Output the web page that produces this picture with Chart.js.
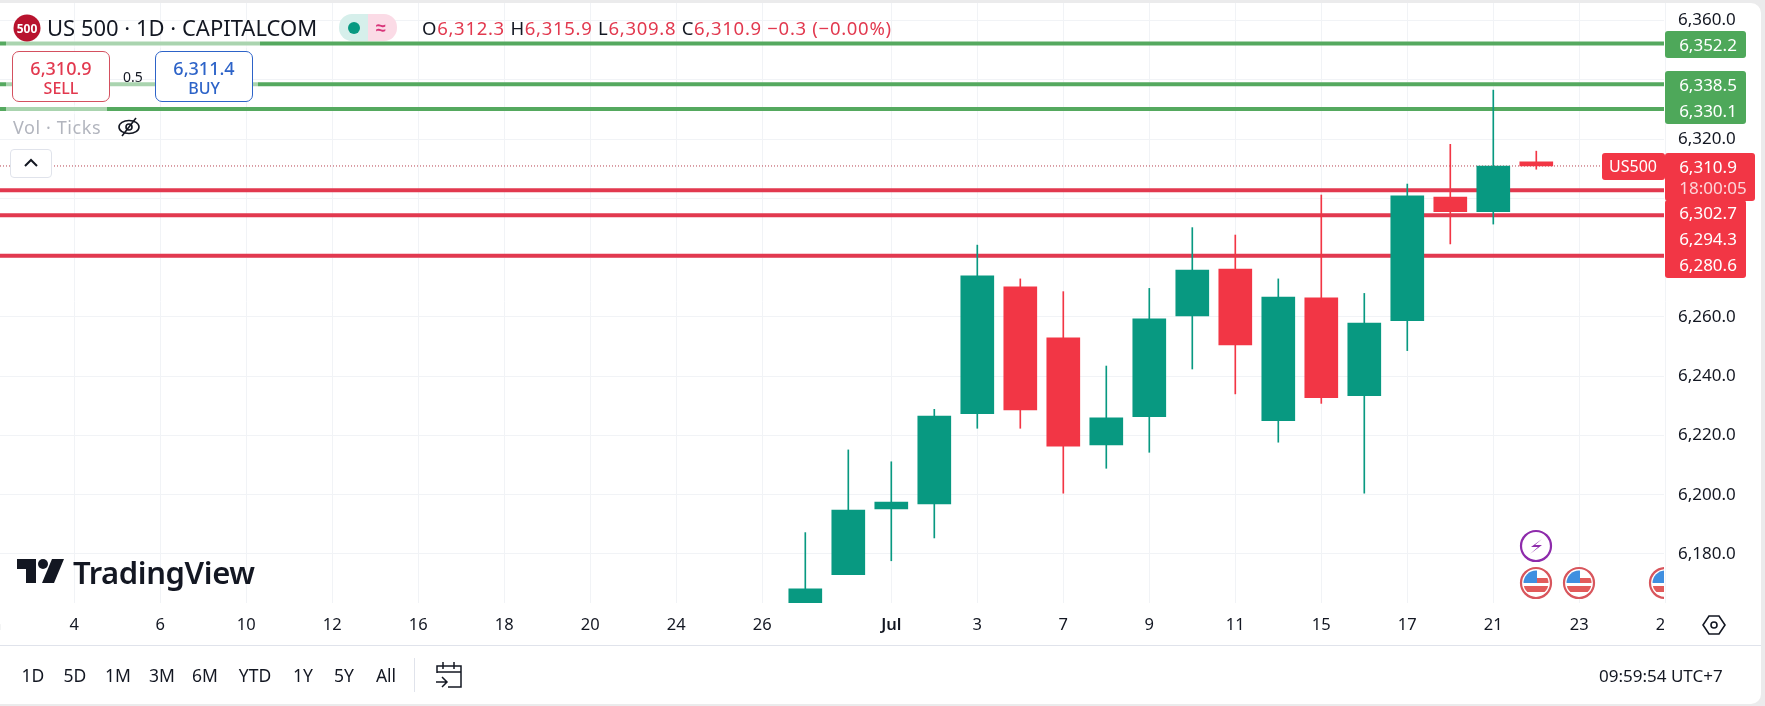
<!DOCTYPE html>
<html>
<head>
<meta charset="utf-8">
<title>US 500</title>
<script src="https://cdn.jsdelivr.net/npm/chart.js@4"></script>
<style>
  html, body { margin: 0; width: 1765px; height: 706px; overflow: hidden; background: #fff; }
  body, div, span { font-family: "Noto Sans", sans-serif; color: #131722; }
  canvas { position: absolute; left: 0; top: 0; }
  .a { position: absolute; white-space: nowrap; }
  .c { transform: translate(-50%, -50%); }
  .v { transform: translateY(-50%); }
  .red { color: #e2394f; }
  .box { position: absolute; background: #fff; border-radius: 7px; box-sizing: border-box; }
  .strip { position: absolute; background: rgba(255, 255, 255, 0.5); }
  .tag { position: absolute; border-radius: 3px; }
  .tagtxt { position: absolute; left: 1708px; transform: translate(-50%, -50%); color: #fff; font-size: 17px; white-space: nowrap; }
  .range { position: absolute; top: 675px; transform: translate(-50%, -50%); font-size: 17.5px; }
</style>
</head>
<body>
<canvas id="chart" width="1765" height="706"></canvas>

<!-- price tags -->
<div class="tag" style="left:1665px;top:31px;width:81px;height:27px;background:#4ea85a"></div>
<div class="tag" style="left:1665px;top:71px;width:81px;height:53px;background:#4ea85a"></div>
<div class="tag" style="left:1602px;top:153px;width:63px;height:27px;background:#f23645"></div>
<div class="tag" style="left:1665px;top:153px;width:90px;height:48px;background:#f23645"></div>
<div class="tag" style="left:1665px;top:200px;width:81px;height:78px;background:#f23645"></div>
<div class="tagtxt" style="top:44px">6,352.2</div>
<div class="tagtxt" style="top:84px">6,338.5</div>
<div class="tagtxt" style="top:110px">6,330.1</div>
<div class="tagtxt" style="top:166px">6,310.9</div>
<div class="tagtxt" style="top:187px;left:1713px;color:#fcd5d9">18:00:05</div>
<div class="tagtxt" style="top:212px">6,302.7</div>
<div class="tagtxt" style="top:238px">6,294.3</div>
<div class="tagtxt" style="top:264px">6,280.6</div>
<div class="tagtxt" style="top:166px;left:1633px;font-size:16px">US500</div>

<!-- legend -->
<div class="strip" style="left:6px;top:40px;width:254px;height:8px"></div>
<div class="strip" style="left:6px;top:80px;width:252px;height:9px"></div>
<div class="strip" style="left:6px;top:105px;width:101px;height:9px"></div>
<svg class="a" style="left:13px;top:14px" width="28" height="28"><circle cx="14" cy="14" r="13.5" fill="#b8132e"/><text x="14" y="18.5" font-size="12" font-weight="700" fill="#fff" text-anchor="middle" font-family="Noto Sans">500</text></svg>
<div class="a v" style="left:47px;top:27px;font-size:22px">US 500 · 1D · CAPITALCOM</div>
<div class="a" style="left:339px;top:14px;width:29px;height:27px;background:#d6efeb;border-radius:13px 0 0 13px"></div>
<div class="a" style="left:368px;top:14px;width:29px;height:27px;background:#fbdbe6;border-radius:0 13px 13px 0"></div>
<div class="a" style="left:348px;top:22px;width:12px;height:12px;background:#089981;border-radius:50%"></div>
<div class="a c" style="left:381px;top:27px;font-size:18px;font-weight:700;color:#d9357a">≈</div>
<div class="a v" style="left:422px;top:27px;font-size:18.5px;letter-spacing:0.7px">O<span class="red">6,312.3</span> H<span class="red">6,315.9</span> L<span class="red">6,309.8</span> C<span class="red">6,310.9 −0.3 (−0.00%)</span></div>

<div class="box" style="left:12px;top:51px;width:98px;height:51px;border:1px solid #d4505f"></div>
<div class="a c red" style="left:61px;top:68px;font-size:18px;font-weight:500">6,310.9</div>
<div class="a c red" style="left:61px;top:88px;font-size:16px;font-weight:500">SELL</div>
<div class="a c" style="left:133px;top:76px;font-size:14px">0.5</div>
<div class="box" style="left:155px;top:51px;width:98px;height:51px;border:1px solid #2d63c8"></div>
<div class="a c" style="left:204px;top:68px;font-size:18px;font-weight:500;color:#2d63c8">6,311.4</div>
<div class="a c" style="left:204px;top:88px;font-size:16px;font-weight:500;color:#2d63c8">BUY</div>

<div class="a v" style="left:13px;top:127px;font-size:18px;letter-spacing:0.6px;color:#b2b5be">Vol · Ticks</div>
<svg class="a" style="left:116px;top:115px" width="26" height="24" fill="none" stroke="#131722" stroke-width="1.6"><ellipse cx="13" cy="12" rx="10" ry="6.5"/><circle cx="13" cy="12" r="3"/><path d="M6 21 20 3"/></svg>
<div class="box" style="left:10px;top:149px;width:42px;height:29px;border:1px solid #e0e3eb;border-radius:4px"></div>
<svg class="a" style="left:22px;top:157px" width="18" height="12" fill="none" stroke="#131722" stroke-width="2"><path d="M3 9 9 3 15 9"/></svg>

<!-- watermark -->
<svg class="a" style="left:17px;top:559px" width="47" height="24" fill="#131722"><path d="M0 0H19V24H9V10H0Z"/><circle cx="26" cy="5" r="5"/><path d="M35 0H47L37 24H25Z"/></svg>
<div class="a v" style="left:73px;top:572px;font-size:31px;font-weight:600;letter-spacing:-0.4px">TradingView</div>

<!-- events -->
<svg class="a" style="left:1500px;top:525px" width="164" height="78">
  <defs><clipPath id="flag"><circle r="12.5"/></clipPath>
    <g id="usa">
      <circle r="15" fill="#fff" stroke="#d8555c" stroke-width="2.2"/>
      <g clip-path="url(#flag)">
        <rect x="-13" y="-13" width="26" height="26" fill="#fff"/>
        <rect x="-13" y="3" width="26" height="6" fill="#e25b5b"/>
        <rect x="0" y="-5" width="13" height="5" fill="#e25b5b"/>
        <rect x="-13" y="-13" width="14" height="13" fill="#3f8fe0"/>
      </g>
    </g>
  </defs>
  <circle cx="36" cy="21" r="15" fill="#fff" stroke="#8e2bab" stroke-width="2.2"/>
  <path d="M42 14 31 22H38L30 29 42 20H35Z" fill="#8e2bab"/>
  <use href="#usa" x="36" y="58"/>
  <use href="#usa" x="79" y="58"/>
  <use href="#usa" x="165" y="58"/>
</svg>
<!-- the price scale hides the end of the last date label -->
<div class="a" style="left:1664px;top:604px;width:97px;height:40px;background:#fff"></div>
<svg class="a" style="left:1702px;top:614px" width="24" height="22" fill="none" stroke="#131722" stroke-width="1.6"><path d="M7 2H17L23 11 17 20H7L1 11Z"/><circle cx="12" cy="11" r="3"/></svg>

<!-- bottom bar -->
<div class="a" style="left:0;top:645px;width:1762px;height:1px;background:#e0e3eb"></div>
<div class="range" style="left:33px">1D</div>
<div class="range" style="left:75px">5D</div>
<div class="range" style="left:118px">1M</div>
<div class="range" style="left:162px">3M</div>
<div class="range" style="left:205px">6M</div>
<div class="range" style="left:255px">YTD</div>
<div class="range" style="left:303px">1Y</div>
<div class="range" style="left:344px">5Y</div>
<div class="range" style="left:386px">All</div>
<div class="a" style="left:414px;top:658px;width:1px;height:34px;background:#e0e3eb"></div>
<svg class="a" style="left:434px;top:660px" width="30" height="29" fill="none" stroke="#131722" stroke-width="1.5"><path d="M3 13V6H27V27H14M3 12H27M9 2V9M20 2V9M2 22H12M8 17 13 22 8 27"/></svg>
<div class="a v" style="left:1599px;top:675px;font-size:17px">09:59:54 UTC+7</div>

<!-- page frame -->
<div class="a" style="left:-20px;top:3px;width:1781px;height:701px;border-radius:10px;box-shadow:0 0 0 12px #ebebec"></div>

<script>
// trading days on the time axis, Jun 2 to Jul 25
const categories = [
  "Jun", "3", "4", "5", "6", "9", "10", "11", "12", "13", "16", "17", "18", "19", "20", "23", "24", "25", "26", "27", "30",
  "Jul", "2", "3", "4", "7", "8", "9", "10", "11", "14", "15", "16", "17", "18", "21", "22", "23", "24", "25",
];
// which days get a label
const xTickIndex = [0, 2, 4, 6, 8, 10, 12, 14, 16, 18, 21, 23, 25, 27, 29, 31, 33, 35, 37, 39];
const yTickValues = [6180, 6200, 6220, 6240, 6260, 6280, 6300, 6320, 6340, 6360];

// candles, first one is Jun 27
const firstCandle = 19;
const opens = [6163.5, 6173.0, 6195.2, 6196.9, 6227.3, 6270.1, 6252.9, 6216.8, 6226.3, 6260.3, 6276.1, 6225.0, 6266.4, 6233.4, 6258.7, 6300.4, 6295.5, 6312.3];
const highs = [6187.2, 6215.1, 6211.1, 6228.8, 6284.2, 6272.8, 6268.5, 6243.4, 6269.6, 6290.1, 6287.6, 6272.8, 6301.1, 6267.9, 6304.8, 6318.2, 6336.5, 6315.9];
const lows = [6163.5, 6173.0, 6177.7, 6185.4, 6222.4, 6222.4, 6200.5, 6208.9, 6214.3, 6242.4, 6234.0, 6217.7, 6230.8, 6200.5, 6248.6, 6284.6, 6291.3, 6309.8];
const closes = [6168.2, 6194.8, 6197.5, 6226.5, 6273.8, 6228.6, 6216.4, 6225.9, 6259.3, 6275.8, 6250.5, 6266.7, 6232.7, 6257.9, 6300.8, 6295.5, 6310.9, 6310.9];

// horizontal price levels
const resistance = [6352.2, 6338.5, 6330.1];
const support = [6302.7, 6294.3, 6280.6];
const lastPrice = 6310.9;

const UP = "#089981";
const DOWN = "#f23645";
const GRID = "#f1f3f6";
const X_MIN = 0.272;
const X_MAX = 38.97;

const candleColor = opens.map((o, i) => (closes[i] >= o ? UP : DOWN));

function levelDataset(value, color, width, dash) {
  return {
    type: "line",
    data: [{ x: X_MIN, y: value }, { x: X_MAX, y: value }],
    borderColor: color,
    borderWidth: width,
    borderDash: dash,
    pointRadius: 0,
    order: 3,
  };
}

const datasets = [
  ...resistance.map((v) => levelDataset(v, "#55a95f", 4, [])),
  ...support.map((v) => levelDataset(v, "#e2394f", 4, [])),
  levelDataset(lastPrice, "#b5414f", 1, [1, 2]),
  {
    // wicks
    data: highs.map((h, i) => ({ x: firstCandle + i, y: [lows[i], h] })),
    backgroundColor: candleColor,
    barThickness: 1,
    grouped: false,
    order: 2,
  },
  {
    // bodies
    data: opens.map((o, i) => ({ x: firstCandle + i, y: [o, closes[i]] })),
    backgroundColor: candleColor,
    barThickness: 33,
    grouped: false,
    order: 1,
  },
];

new Chart(document.getElementById("chart"), {
  type: "bar",
  data: { datasets },
  options: {
    responsive: false,
    animation: false,
    devicePixelRatio: 1,
    layout: { padding: { left: 0, right: 0, top: 0, bottom: 61 } },
    plugins: { legend: { display: false }, tooltip: { enabled: false } },
    scales: {
      x: {
        type: "linear",
        offset: false,
        min: X_MIN,
        max: X_MAX,
        border: { display: false },
        grid: { color: GRID, drawTicks: false, offset: false },
        afterBuildTicks: (scale) => {
          scale.ticks = xTickIndex.map((i) => ({ value: i }));
        },
        afterFit: (scale) => {
          scale.height = 42;
          scale.paddingLeft = 0;
          scale.paddingRight = 0;
        },
        ticks: {
          autoSkip: false,
          maxRotation: 0,
          padding: 12,
          color: "#131722",
          font: (ctx) => ({
            family: "Noto Sans",
            size: 16.5,
            weight: ctx.tick && (ctx.tick.value === 21 || ctx.tick.value === 0) ? "600" : "400",
          }),
          callback: (value) => categories[value],
        },
      },
      y: {
        position: "right",
        min: 6163.45,
        max: 6366.9,
        border: { display: false },
        grid: { color: GRID, drawTicks: false },
        afterBuildTicks: (scale) => {
          scale.ticks = yTickValues.map((v) => ({ value: v }));
        },
        afterFit: (scale) => {
          scale.width = 101;
          scale.paddingTop = 0;
          scale.paddingBottom = 0;
        },
        ticks: {
          padding: 14,
          color: "#131722",
          font: { family: "Noto Sans", size: 17 },
          callback: (value) => value.toLocaleString("en-US", { minimumFractionDigits: 1 }),
        },
      },
    },
  },
});
</script>
</body>
</html>
